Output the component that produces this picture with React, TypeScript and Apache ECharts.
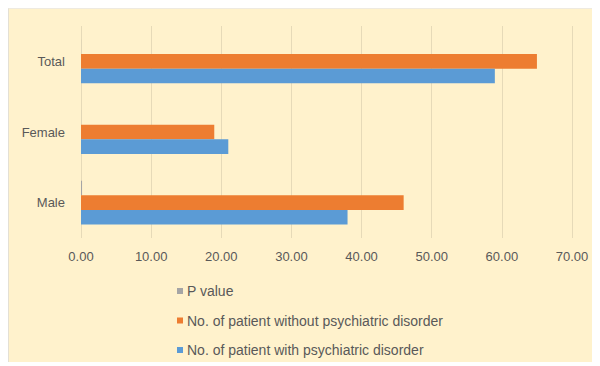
import React, { useEffect, useRef } from "react";
import * as echarts from "echarts";

const categories = ["Male", "Female", "Total"];
const pValue = [0.15, 0.01, 0.01];
const withoutDisorder = [46, 19, 65];
const withDisorder = [38, 21, 59];
const xTicks = { min: 0, max: 70, interval: 10 };

const seriesNames = {
  p: "P value",
  without: "No. of patient without psychiatric disorder",
  with: "No. of patient with psychiatric disorder",
};

const legendOrder = [seriesNames.p, seriesNames.without, seriesNames.with];

const TEXT = "#595959";
const FONT = "Liberation Sans";

export default function App() {
  const ref = useRef<HTMLDivElement>(null);

  useEffect(() => {
    if (!ref.current) return;
    const chart = echarts.init(ref.current, null, { renderer: "svg" });
    chart.setOption({
      animation: false,
      backgroundColor: "#FFF2CC",
      grid: { left: 72, right: 28, top: 17, height: 212 },
      // one legend per entry, stacked vertically
      legend: legendOrder.map((name, i) => ({
        orient: "vertical",
        left: 168,
        top: 275 + i * 29.5,
        padding: 0,
        itemWidth: 6,
        itemHeight: 6,
        icon: "rect",
        textStyle: { color: TEXT, fontFamily: FONT, fontSize: 14, padding: [0, 0, 0, -1] },
        data: [name],
      })),
      xAxis: {
        type: "value",
        min: xTicks.min,
        max: xTicks.max,
        interval: xTicks.interval,
        axisLine: { show: false },
        axisTick: { show: false },
        axisLabel: {
          color: TEXT,
          fontFamily: FONT,
          fontSize: 13,
          margin: 12,
          formatter: (v: number) => v.toFixed(2),
        },
        splitLine: { lineStyle: { color: "#E6DAB8", width: 1 } },
      },
      yAxis: {
        type: "category",
        data: categories,
        axisLine: { show: false },
        axisTick: { show: false },
        axisLabel: { color: TEXT, fontFamily: FONT, fontSize: 13, margin: 16 },
      },
      series: [
        {
          name: seriesNames.p,
          type: "bar",
          data: pValue,
          itemStyle: { color: "#A5A5A5" },
          barGap: "0%",
          barCategoryGap: "38%",
        },
        {
          name: seriesNames.without,
          type: "bar",
          data: withoutDisorder,
          itemStyle: { color: "#ED7D31" },
        },
        {
          name: seriesNames.with,
          type: "bar",
          data: withDisorder,
          itemStyle: { color: "#5B9BD5" },
        },
      ],
    });
    return () => chart.dispose();
  }, []);

  return (
    <div
      ref={ref}
      style={{
        width: 592,
        height: 354,
        borderLeft: "1px solid #E4E0D4",
        borderTop: "1px solid #EEEAE0",
        boxSizing: "border-box",
      }}
    />
  );
}
